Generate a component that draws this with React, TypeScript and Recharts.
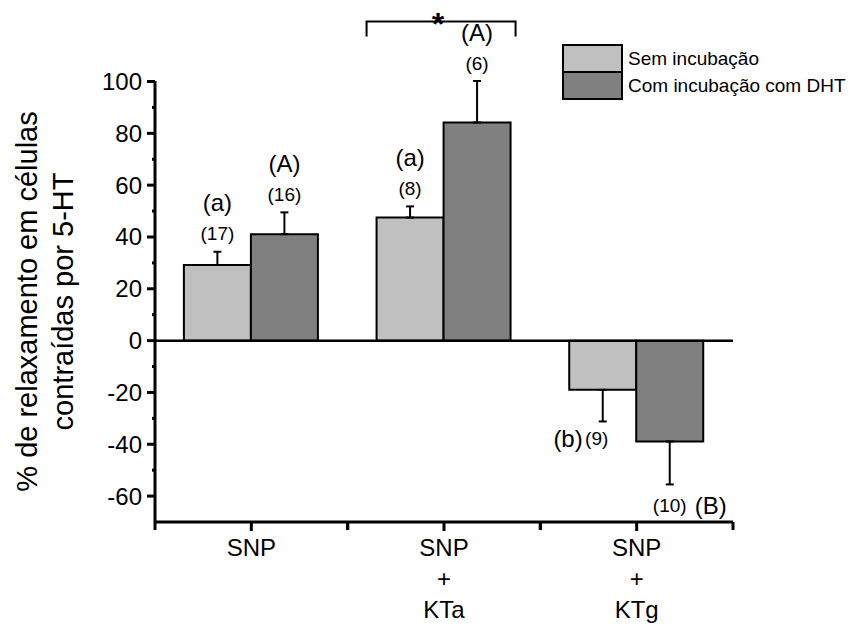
import React from 'react';
import { BarChart, Bar, XAxis, YAxis, ErrorBar, LabelList, ReferenceLine } from 'recharts';

// ---------- data ----------
const categories = ['SNP', 'SNP + KTa', 'SNP + KTg'];
const categoryLines = [['SNP'], ['SNP', '+', 'KTa'], ['SNP', '+', 'KTg']];
const seriesNames = ['Sem incubação', 'Com incubação com DHT'];
const seriesColors = ['#c0c0c0', '#808080'];
const semValues = [29.2, 47.5, -19.0];
const semErrors = [5.1, 4.3, 12.2];
const dhtValues = [41.1, 84.2, -38.9];
const dhtErrors = [8.4, 16.0, 16.6];
const semLetters = ['(a)', '(a)', '(b)'];
const semCounts = ['(17)', '(8)', '(9)'];
const dhtLetters = ['(A)', '(A)', '(B)'];
const dhtCounts = ['(16)', '(6)', '(10)'];
const yTicks = [-60, -50, -40, -30, -20, -10, 0, 10, 20, 30, 40, 50, 60, 70, 80, 90, 100];
const yDomain = [-70, 100];
const yLabelLines = ['% de relaxamento em células', 'contraídas por 5-HT'];
const significanceIndex = 1;
const significanceMark = '*';

// ---------- layout ----------
const W = 848;
const H = 626;
const FONT = '"Liberation Sans", Arial, Helvetica, sans-serif';
const MARGIN = { top: 81, right: 115, bottom: 4, left: 0 };
const Y_AXIS_W = 155;
const X_AXIS_H = 100;
const PLOT_W = W - MARGIN.left - MARGIN.right - Y_AXIS_W;

const oneSided = (v: number, e: number) => (v >= 0 ? [0, e] : [e, 0]);

const data = categories.map((c, i) => ({
  cat: c,
  sem: semValues[i],
  semErr: oneSided(semValues[i], semErrors[i]),
  dht: dhtValues[i],
  dhtErr: oneSided(dhtValues[i], dhtErrors[i]),
}));

const YTick = (props: any) => {
  const { x, y, payload } = props;
  const v = Number(payload.value);
  const major = v % 20 === 0;
  return (
    <g>
      <line x1={x - (major ? 8 : 3)} x2={x} y1={y} y2={y} stroke="#000" strokeWidth={3} />
      {major && (
        <text x={x - 13} y={y} textAnchor="end" dominantBaseline="central" fontSize={24} fontFamily={FONT} fill="#000">
          {v}
        </text>
      )}
    </g>
  );
};

const XTick = (props: any) => {
  const { x, y, index, payload } = props;
  const half = PLOT_W / categories.length / 2;
  const lines = categoryLines[index] ?? [String(payload.value)];
  return (
    <g>
      <line x1={x} x2={x} y1={y} y2={y + 9} stroke="#000" strokeWidth={3} />
      <line x1={x - half} x2={x - half} y1={y} y2={y + 8} stroke="#000" strokeWidth={3} />
      <line x1={x + half} x2={x + half} y1={y} y2={y + 8} stroke="#000" strokeWidth={3} />
      <text x={x} y={y + 34} textAnchor="middle" fontSize={24} fontFamily={FONT} fill="#000">
        {lines.map((l, i) => (
          <tspan key={i} x={x} dy={i === 0 ? 0 : 31}>
            {l}
          </tspan>
        ))}
      </text>
    </g>
  );
};

const YLabel = (props: any) => {
  const vb = props.viewBox || { x: 0, y: MARGIN.top, width: Y_AXIS_W, height: 441 };
  const cy = vb.y + vb.height / 2;
  const xs = [vb.x + 27, vb.x + 63];
  return (
    <g>
      {yLabelLines.map((t, i) => (
        <text
          key={i}
          x={xs[i]}
          y={cy}
          transform={`rotate(-90, ${xs[i]}, ${cy})`}
          textAnchor="middle"
          dominantBaseline="central"
          fontSize={29}
          fontFamily={FONT}
          fill="#000"
        >
          {t}
        </text>
      ))}
    </g>
  );
};

const makeAnnot = (letters: string[], counts: string[], errors: number[], side: 'left' | 'right', bracket: boolean) =>
  (props: any) => {
    const { viewBox, index, value } = props;
    if (!viewBox || index == null) return null;
    const { x, y, width, height } = viewBox;
    const top = Math.min(y, y + height);
    const bottom = Math.max(y, y + height);
    const h = Math.abs(height);
    const v = Number(value);
    const k = Math.abs(v) > 0 ? h / Math.abs(v) : 0;
    const cx = x + width / 2;
    const errPx = errors[index] * k;
    const out: any[] = [];
    if (v >= 0) {
      const e = top - errPx;
      out.push(
        <text key="n" x={cx} y={e - 18} textAnchor="middle" dominantBaseline="central" fontSize={19} fontFamily={FONT} fill="#000">
          {counts[index]}
        </text>,
        <text key="l" x={cx} y={e - 49} textAnchor="middle" dominantBaseline="central" fontSize={24} fontFamily={FONT} fill="#000">
          {letters[index]}
        </text>
      );
    } else {
      const e = bottom + errPx;
      if (side === 'left') {
        const ny = e + 17;
        out.push(
          <text key="n" x={cx - 6} y={ny} textAnchor="middle" dominantBaseline="central" fontSize={19} fontFamily={FONT} fill="#000">
            {counts[index]}
          </text>,
          <text key="l" x={cx - 20} y={ny} textAnchor="end" dominantBaseline="central" fontSize={24} fontFamily={FONT} fill="#000">
            {letters[index]}
          </text>
        );
      } else {
        const ny = e + 21;
        out.push(
          <text key="n" x={cx} y={ny} textAnchor="middle" dominantBaseline="central" fontSize={19} fontFamily={FONT} fill="#000">
            {counts[index]}
          </text>,
          <text key="l" x={cx + 25} y={ny} textAnchor="start" dominantBaseline="central" fontSize={24} fontFamily={FONT} fill="#000">
            {letters[index]}
          </text>
        );
      }
    }
    if (bracket && index === significanceIndex && k > 0) {
      const zeroY = v >= 0 ? bottom : top;
      const yMaxPx = zeroY - yDomain[1] * k;
      const left = x - width - 10;
      const right = x + width + 5;
      const lineY = yMaxPx - 60;
      const dropY = yMaxPx - 45;
      out.push(
        <path key="b" d={`M${left},${dropY} V${lineY} H${right} V${dropY}`} fill="none" stroke="#000" strokeWidth={2} />,
        <text key="s" x={(left + right) / 2 - 3} y={yMaxPx - 47} textAnchor="middle" fontSize={32} fontWeight="bold" fontFamily={FONT} fill="#000">
          {significanceMark}
        </text>
      );
    }
    return <g>{out}</g>;
  };

const Legend = () => {
  const bx = 563;
  const by = 45;
  const bw = 59;
  const bh = 27;
  return (
    <svg width={W} height={H} style={{ position: 'absolute', left: 0, top: 0, pointerEvents: 'none' }}>
      {seriesNames.map((n, i) => (
        <g key={n}>
          <rect x={bx} y={by + i * bh} width={bw} height={bh} fill={seriesColors[i]} stroke="#000" strokeWidth={2} />
          <text x={bx + 65} y={by + i * bh + bh / 2} dominantBaseline="central" fontSize={19} fontFamily={FONT} fill="#000">
            {n}
          </text>
        </g>
      ))}
    </svg>
  );
};

export default function App() {
  return (
    <div style={{ position: 'absolute', left: 0, top: 0, width: W, height: H, background: '#fff' }}>
      <BarChart width={W} height={H} data={data} margin={MARGIN} barCategoryGap="15%" barGap={0}>
        <XAxis
          dataKey="cat"
          height={X_AXIS_H}
          interval={0}
          tickSize={0}
          tickMargin={0}
          tickLine={false}
          axisLine={{ stroke: '#000', strokeWidth: 3 }}
          tick={<XTick />}
        />
        <YAxis
          type="number"
          domain={yDomain}
          ticks={yTicks}
          interval={0}
          width={Y_AXIS_W}
          tickSize={0}
          tickMargin={0}
          tickLine={false}
          axisLine={{ stroke: '#000', strokeWidth: 3 }}
          tick={<YTick />}
          label={{ content: (p: any) => <YLabel {...p} /> }}
        />
        <ReferenceLine y={0} stroke="#000" strokeWidth={2.5} />
        <Bar dataKey="sem" name={seriesNames[0]} fill={seriesColors[0]} stroke="#000" strokeWidth={2} isAnimationActive={false}>
          <ErrorBar dataKey="semErr" direction="y" width={4} stroke="#000" strokeWidth={2} />
          <LabelList dataKey="sem" content={makeAnnot(semLetters, semCounts, semErrors, 'left', false)} />
        </Bar>
        <Bar dataKey="dht" name={seriesNames[1]} fill={seriesColors[1]} stroke="#000" strokeWidth={2} isAnimationActive={false}>
          <ErrorBar dataKey="dhtErr" direction="y" width={4} stroke="#000" strokeWidth={2} />
          <LabelList dataKey="dht" content={makeAnnot(dhtLetters, dhtCounts, dhtErrors, 'right', true)} />
        </Bar>
      </BarChart>
      <Legend />
    </div>
  );
}
